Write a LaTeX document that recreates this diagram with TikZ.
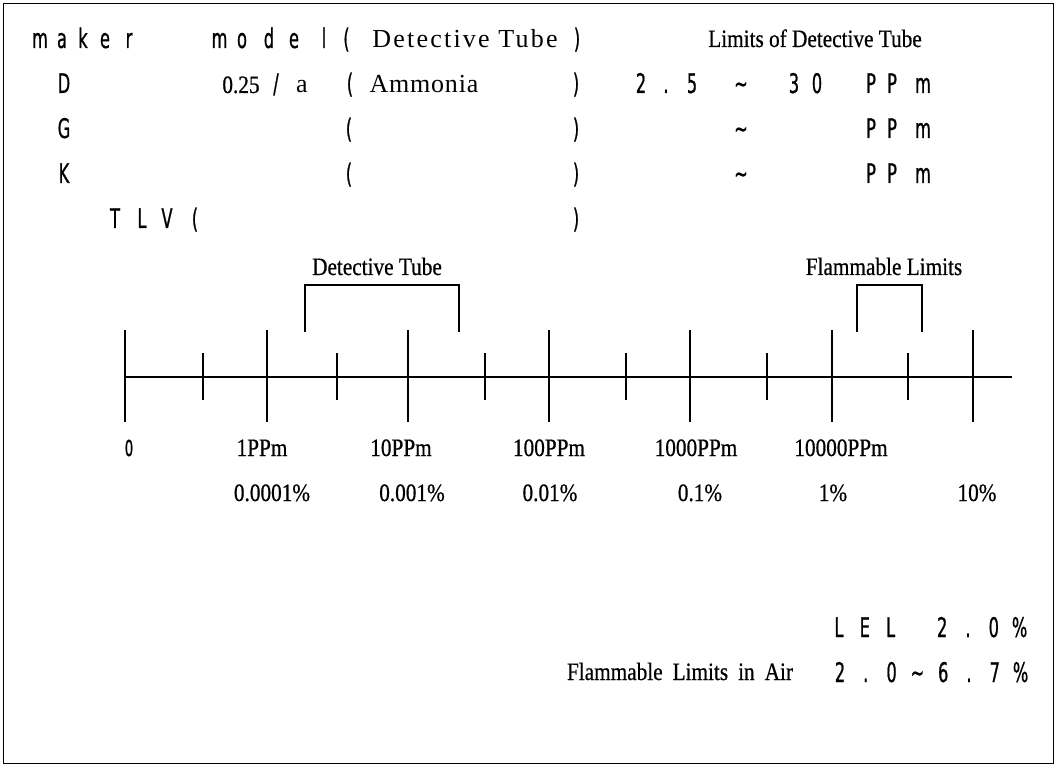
\documentclass[tikz,border=0pt]{standalone}
\usepackage{fontspec}
\setmainfont{Liberation Serif}
\newfontfamily\gsans[FakeStretch=0.6,FakeBold=0.7]{DejaVu Sans}
\newfontfamily\cserif[FakeStretch=0.85,FakeBold=0.6]{Liberation Serif}
\newfontfamily\wserif[LetterSpace=8.5]{Liberation Serif}
\newfontfamily\aserif[LetterSpace=3]{Liberation Serif}
\begin{document}
\begin{tikzpicture}[x=1pt,y=-1pt,
  every node/.style={inner sep=0pt,anchor=base},
  sans/.style={font=\fontsize{27}{30}\selectfont\gsans},
  sanssm/.style={font=\fontsize{22}{26}\selectfont\gsans},
  lbl/.style={font=\fontsize{25}{29}\selectfont\cserif},
  big/.style={font=\fontsize{26}{30}\selectfont\wserif},
  bigA/.style={font=\fontsize{26}{30}\selectfont\aserif},
  axisline/.style={line width=1.4pt},
  brk/.style={line width=2.8pt,line join=miter}]
\useasboundingbox (0,0) rectangle (1058,767);
\draw[line width=1.8pt] (3.5,3.5) rectangle (1053.5,763.5);

% ---- row 1
\foreach \c/\x [count=\i] in {m/40,a/62,k/83,e/105,r/129,m/219.5,o/242,d/269,e/294,l/324}
  \node[sans] (ra\i) at (\x,48) {\c};
\node[sans] (raL) at (346.5,48) {(};
\node[big] (raT) at (465,48) {Detective Tube};
\node[sans] (raR) at (577,48) {)};
\node[lbl] (lim) at (815,47) {Limits of Detective Tube};

% ---- row 2
\node[sans] (rbD) at (64,93) {D};
\node[lbl] (rbN) at (241,93) {0.25};
\node[sans] (rbS) at (276,93) {/};
\node[font=\fontsize{26}{30}\selectfont] (rbA) at (302,93) {a};
\node[sans] (rbL) at (350,93) {(};
\node[bigA] (rbT) at (424,93) {Ammonia};
\node[sans] (rbR) at (576,93) {)};
\foreach \c/\x [count=\i] in {2/641,./666,5/692,\textasciitilde/741,3/794,0/817,P/871,P/892,m/923}
  \node[sans] (rbv\i) at (\x,93) {\c};

% ---- rows 3 and 4
\foreach \lt/\y/\n in {G/138/c,K/183/d}{
  \node[sans] (r\n K) at (64,\y) {\lt};
  \node[sans] (r\n L) at (349,\y) {(};
  \node[sans] (r\n R) at (576,\y) {)};
  \node[sans] (r\n T) at (741,\y) {\textasciitilde};
  \node[sans] (r\n P) at (871,\y) {P};
  \node[sans] (r\n Q) at (892,\y) {P};
  \node[sans] (r\n M) at (923,\y) {m};
}

% ---- row 5
\foreach \c/\x [count=\i] in {T/115,L/142,V/167}
  \node[sans] (re\i) at (\x,228) {\c};
\node[sans] (reL) at (195,228) {(};
\node[sans] (reR) at (576,228) {)};

% ---- scale
\coordinate (axL) at (125,377);
\coordinate (axR) at (1012,377);
\draw[axisline] (axL) -- (axR);
\foreach \x [count=\i] in {125,267,408,549,690,832,973}
  \draw[axisline] (\x,330) coordinate (mj\i) -- (\x,422);
\foreach \x [count=\i] in {203,337,485,626,767,908}
  \draw[axisline] (\x,353) coordinate (mn\i) -- (\x,400);

% ---- brackets
\coordinate (b1a) at (305,332); \coordinate (b1b) at (305,285);
\coordinate (b1c) at (459,285); \coordinate (b1d) at (459,332);
\draw[brk] (b1a) -- (b1b) -- (b1c) -- (b1d);
\coordinate (b2a) at (857,332); \coordinate (b2b) at (857,285);
\coordinate (b2c) at (922,285); \coordinate (b2d) at (922,332);
\draw[brk] (b2a) -- (b2b) -- (b2c) -- (b2d);
\node[lbl] (dtl) at (377,275) {Detective Tube};
\node[lbl] (fll) at (884,275) {Flammable Limits};

% ---- scale labels
\node[sanssm] (p0) at (129,456) {0};
\foreach \t/\x [count=\i] in {1PPm/262,10PPm/401,100PPm/549,1000PPm/696,10000PPm/841}
  \node[lbl] (pp\i) at (\x,456) {\t};
\foreach \t/\x [count=\i] in {0.0001\%/272,0.001\%/412,0.01\%/550,0.1\%/700,1\%/833,10\%/977}
  \node[lbl] (pc\i) at (\x,501) {\t};

% ---- bottom
\foreach \c/\k [count=\i] in {L/0,E/1,L/2,2/4,./5,0/6,\%/7}
  \node[sans] (le\i) at (839+25.8*\k,637) {\c};
\node[lbl] (fla) at (680,680) {Flammable\hspace{10pt}Limits\hspace{10pt}in\hspace{10pt}Air};
\foreach \c/\k [count=\i] in {2/0,./1,0/2,\textasciitilde/3,6/4,./5,7/6,\%/7}
  \node[sans] (fr\i) at (840+25.8*\k,682) {\c};
\end{tikzpicture}
\end{document}
